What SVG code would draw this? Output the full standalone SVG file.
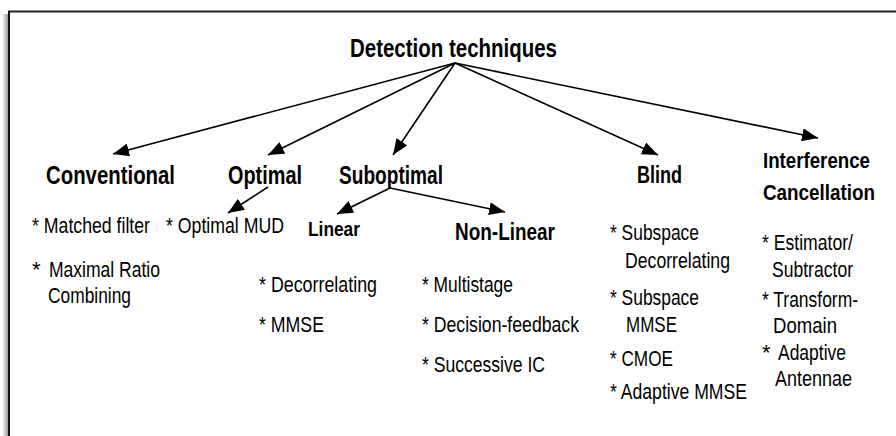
<svg xmlns="http://www.w3.org/2000/svg" width="896" height="436" viewBox="0 0 896 436">
  <style>
    text { font-family: "Liberation Sans Narrow", "Liberation Sans", Arial, sans-serif; fill: #000; }
    .h { font-weight: bold; font-size: 26px; }
    .h2 { font-weight: bold; font-size: 24px; }
    .h3 { font-weight: bold; font-size: 22px; }
    .sub { font-weight: bold; font-size: 21px; }
    .item { font-size: 22px; }
    .edge { stroke: #000; stroke-width: 1.6; fill: none; marker-end: url(#arrow); }
  </style>
  <defs>
    <marker id="arrow" markerUnits="userSpaceOnUse" markerWidth="17" markerHeight="13" refX="16" refY="6.5" orient="auto">
      <path d="M0,0 L16,6.5 L0,13 Z" fill="#000"/>
    </marker>
    <linearGradient id="shade" x1="0" y1="0" x2="1" y2="0">
      <stop offset="0" stop-color="#fff"/>
      <stop offset="1" stop-color="#9a9a9a"/>
    </linearGradient>
  </defs>

  <rect width="896" height="436" fill="#fff"/>

  <!-- page frame with soft shadow on the left -->
  <g id="frame">
    <rect x="2" y="14" width="6" height="422" fill="url(#shade)"/>
    <line x1="8" y1="11.5" x2="896" y2="11.5" stroke="#222" stroke-width="2"/>
    <line x1="9" y1="11" x2="9" y2="436" stroke="#111" stroke-width="2"/>
  </g>

  <!-- connectors -->
  <g id="connectors">
    <line class="edge" x1="455" y1="63" x2="113" y2="154"/>
    <line class="edge" x1="455" y1="63" x2="268" y2="155"/>
    <line class="edge" x1="455" y1="63" x2="393" y2="155"/>
    <line class="edge" x1="455" y1="63" x2="658" y2="155"/>
    <line class="edge" x1="455" y1="63" x2="818" y2="138"/>
    <line class="edge" x1="268" y1="187" x2="228" y2="213"/>
    <line class="edge" x1="390" y1="188" x2="337" y2="214"/>
    <line class="edge" x1="390" y1="188" x2="505" y2="212"/>
  </g>

  <g id="root">
    <text class="h" x="350" y="57" textLength="207" lengthAdjust="spacingAndGlyphs">Detection techniques</text>
  </g>

  <g id="conventional">
    <text class="h" x="46" y="184" textLength="129" lengthAdjust="spacingAndGlyphs">Conventional</text>
    <text class="item" x="32" y="233" textLength="118" lengthAdjust="spacingAndGlyphs">* Matched filter</text>
    <text class="item" x="32" y="277">*</text>
    <text class="item" x="49" y="277" textLength="111" lengthAdjust="spacingAndGlyphs">Maximal Ratio</text>
    <text class="item" x="48" y="303" textLength="83" lengthAdjust="spacingAndGlyphs">Combining</text>
  </g>

  <g id="optimal">
    <text class="h" x="228" y="184" textLength="74" lengthAdjust="spacingAndGlyphs">Optimal</text>
    <text class="item" x="166" y="233" textLength="118" lengthAdjust="spacingAndGlyphs">* Optimal MUD</text>
  </g>

  <g id="suboptimal">
    <text class="h" x="339" y="184" textLength="104" lengthAdjust="spacingAndGlyphs">Suboptimal</text>
  </g>

  <g id="linear">
    <text class="sub" x="308" y="236" textLength="52" lengthAdjust="spacingAndGlyphs">Linear</text>
    <text class="item" x="259" y="292" textLength="118" lengthAdjust="spacingAndGlyphs">* Decorrelating</text>
    <text class="item" x="259" y="332" textLength="65" lengthAdjust="spacingAndGlyphs">* MMSE</text>
  </g>

  <g id="nonlinear">
    <text class="h2" x="455" y="240" textLength="100" lengthAdjust="spacingAndGlyphs">Non-Linear</text>
    <text class="item" x="422" y="292" textLength="91" lengthAdjust="spacingAndGlyphs">* Multistage</text>
    <text class="item" x="422" y="332" textLength="157" lengthAdjust="spacingAndGlyphs">* Decision-feedback</text>
    <text class="item" x="422" y="372" textLength="123" lengthAdjust="spacingAndGlyphs">* Successive IC</text>
  </g>

  <g id="blind">
    <text class="h2" x="637" y="183" textLength="45" lengthAdjust="spacingAndGlyphs">Blind</text>
    <text class="item" x="610" y="240" textLength="89" lengthAdjust="spacingAndGlyphs">* Subspace</text>
    <text class="item" x="625" y="268" textLength="105" lengthAdjust="spacingAndGlyphs">Decorrelating</text>
    <text class="item" x="610" y="305" textLength="89" lengthAdjust="spacingAndGlyphs">* Subspace</text>
    <text class="item" x="626" y="332" textLength="51" lengthAdjust="spacingAndGlyphs">MMSE</text>
    <text class="item" x="610" y="366" textLength="63" lengthAdjust="spacingAndGlyphs">* CMOE</text>
    <text class="item" x="610" y="399" textLength="137" lengthAdjust="spacingAndGlyphs">* Adaptive MMSE</text>
  </g>

  <g id="interference">
    <text class="h3" x="763" y="168" textLength="107" lengthAdjust="spacingAndGlyphs">Interference</text>
    <text class="h3" x="763" y="200" textLength="112" lengthAdjust="spacingAndGlyphs">Cancellation</text>
    <text class="item" x="762" y="250" textLength="91" lengthAdjust="spacingAndGlyphs">* Estimator/</text>
    <text class="item" x="772" y="277" textLength="81" lengthAdjust="spacingAndGlyphs">Subtractor</text>
    <text class="item" x="762" y="307" textLength="96" lengthAdjust="spacingAndGlyphs">* Transform-</text>
    <text class="item" x="773" y="333" textLength="64" lengthAdjust="spacingAndGlyphs">Domain</text>
    <text class="item" x="762" y="360">*</text>
    <text class="item" x="778" y="360" textLength="68" lengthAdjust="spacingAndGlyphs">Adaptive</text>
    <text class="item" x="775" y="386" textLength="77" lengthAdjust="spacingAndGlyphs">Antennae</text>
  </g>
</svg>
